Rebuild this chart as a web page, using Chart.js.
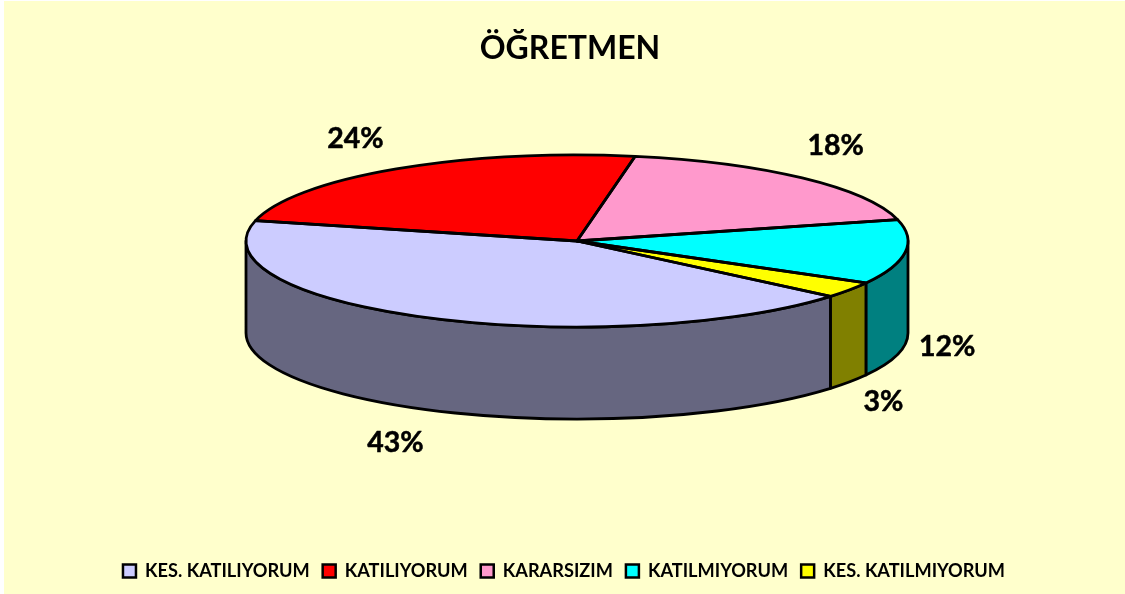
<!DOCTYPE html>
<html>
<head>
<meta charset="utf-8">
<title>ÖĞRETMEN</title>
<style>
  body { margin: 0; background: #fff; }
  canvas { display: block; }
</style>
<script src="https://cdn.jsdelivr.net/npm/chart.js@4"></script>
</head>
<body>
<canvas id="myChart" width="1125" height="594"></canvas>
<script>
const categories = ['KES. KATILIYORUM', 'KATILIYORUM', 'KARARSIZIM', 'KATILMIYORUM', 'KES. KATILMIYORUM']
const values = [42.7, 24, 18.2, 12.1, 3]
const topColors = ['#CCCCFF', '#FF0000', '#FF99CC', '#00FFFF', '#FFFF00']
const sideColors = ['#666680', '#800000', '#804D66', '#008080', '#808000']

const FONT = 'Lato, Carlito, sans-serif'

// the pie is a normal chart.js pie, this plugin lays it down and gives it a wall
const tiltedPie = {
    id: 'tiltedPie',
    beforeDraw(chart) {
        const ctx = chart.ctx
        ctx.save()
        ctx.fillStyle = '#FFFFCC'
        ctx.fillRect(4, 1, chart.width - 4, chart.height - 1)
        ctx.restore()
    },
    afterLayout(chart, args, opts) {
        chart.titleBlock.left += opts.titleShift
        chart.titleBlock.right += opts.titleShift
    },
    beforeDatasetsDraw(chart, args, opts) {
        const ctx = chart.ctx
        const arcs = chart.getDatasetMeta(0).data
        const ry = arcs[0].outerRadius * opts.squash

        ctx.save()
        ctx.lineWidth = opts.lineWidth
        ctx.strokeStyle = '#000'
        ctx.lineJoin = 'round'
        arcs.forEach((arc, i) => {
            for (let k = -1; k <= 1; k++) {
                const s = Math.max(arc.startAngle + k * 2 * Math.PI, 0)
                const e = Math.min(arc.endAngle + k * 2 * Math.PI, Math.PI)
                if (s >= e) continue
                ctx.beginPath()
                ctx.ellipse(opts.cx, opts.cy, arc.outerRadius, ry, 0, s, e)
                ctx.ellipse(opts.cx, opts.cy + opts.depth, arc.outerRadius, ry, 0, e, s, true)
                ctx.closePath()
                ctx.fillStyle = sideColors[i]
                ctx.fill()
                ctx.stroke()
            }
        })
        ctx.restore()

        ctx.save()
        ctx.translate(opts.cx, opts.cy)
        ctx.scale(1, opts.squash)
        ctx.translate(-arcs[0].x, -arcs[0].y)
    },
    afterDatasetsDraw(chart, args, opts) {
        const ctx = chart.ctx
        ctx.restore()

        const arcs = chart.getDatasetMeta(0).data
        ctx.save()
        ctx.lineWidth = opts.lineWidth
        ctx.strokeStyle = '#000'
        ctx.lineJoin = 'round'
        arcs.forEach(arc => {
            ctx.beginPath()
            ctx.moveTo(opts.cx, opts.cy)
            ctx.ellipse(opts.cx, opts.cy, arc.outerRadius, arc.outerRadius * opts.squash, 0, arc.startAngle, arc.endAngle)
            ctx.closePath()
            ctx.stroke()
        })

        ctx.fillStyle = '#000'
        ctx.font = 'bold ' + opts.labelSize + 'px ' + FONT
        ctx.textAlign = 'center'
        ctx.textBaseline = 'middle'
        ctx.lineWidth = 0.5
        arcs.forEach((arc, i) => {
            const mid = (arc.startAngle + arc.endAngle) / 2
            const x = opts.cx + Math.cos(mid) * arc.outerRadius + opts.labelOffsets[i][0]
            const y = opts.cy + Math.sin(mid) * arc.outerRadius * opts.squash + opts.labelOffsets[i][1]
            ctx.fillText(Math.round(values[i]) + '%', x, y)
            ctx.strokeText(Math.round(values[i]) + '%', x, y)
        })
        ctx.restore()
    }
}

const myChart = new Chart(document.getElementById('myChart'), {
    type: 'pie',
    data: {
        labels: categories,
        datasets: [{
            data: values,
            backgroundColor: topColors,
            borderWidth: 0,
            radius: 331,
            clip: false
        }]
    },
    options: {
        responsive: false,
        animation: false,
        rotation: 130,
        layout: { padding: { left: 3, bottom: 4 } },
        plugins: {
            title: {
                display: true,
                text: 'ÖĞRETMEN',
                color: '#000',
                font: { family: FONT, size: 32, weight: 'bold' },
                padding: { top: 29, bottom: 20 }
            },
            legend: {
                position: 'bottom',
                labels: {
                    color: '#000',
                    font: { family: FONT, size: 18.2, weight: 'bold' },
                    boxWidth: 13,
                    boxHeight: 13,
                    padding: 13,
                    generateLabels(chart) {
                        return categories.map((name, i) => ({
                            text: name,
                            fillStyle: topColors[i],
                            strokeStyle: '#000',
                            lineWidth: 2.5,
                            index: i
                        }))
                    }
                }
            },
            tooltip: { enabled: false },
            tiltedPie: {
                cx: 577,
                cy: 241,
                squash: 0.26,
                depth: 92,
                lineWidth: 2.8,
                titleShift: 6,
                labelSize: 28.5,
                labelOffsets: [[-32, 125], [-41, -30], [33.5, -32], [42, 95], [34, 112]]
            }
        }
    },
    plugins: [tiltedPie]
})
</script>
</body>
</html>
